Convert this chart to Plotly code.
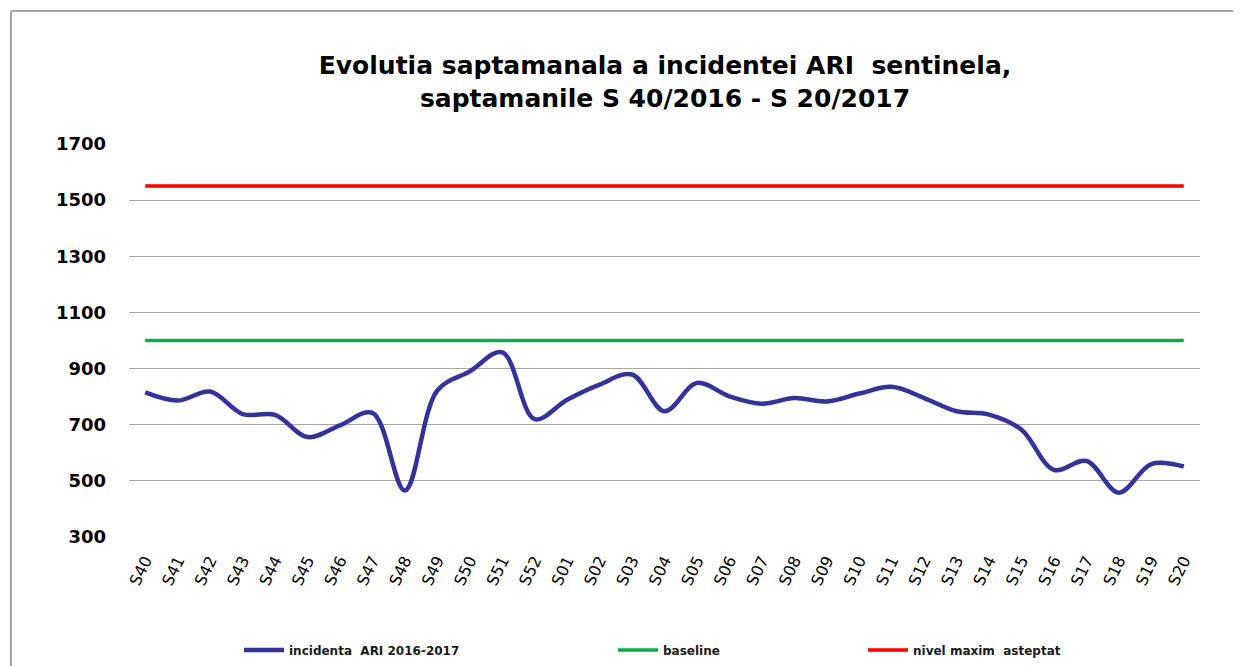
import plotly.graph_objects as go

weeks = ["S40", "S41", "S42", "S43", "S44", "S45", "S46", "S47", "S48", "S49",
         "S50", "S51", "S52", "S01", "S02", "S03", "S04", "S05", "S06", "S07",
         "S08", "S09", "S10", "S11", "S12", "S13", "S14", "S15", "S16", "S17",
         "S18", "S19", "S20"]

incidenta = [815, 786, 818, 738, 735, 656, 698, 742, 466, 822,
             890, 958, 720, 789, 843, 879, 748, 849, 801, 775,
             795, 783, 811, 835, 795, 748, 736, 682, 539, 571,
             458, 560, 551]

baseline = [1000] * len(weeks)
nivel_maxim = [1550] * len(weeks)

y_ticks = [300, 500, 700, 900, 1100, 1300, 1500, 1700]

WIDE = "DejaVu Sans, Verdana, sans-serif"

OFF = 8  # page body margin
W, H = 1241 - OFF, 666 - OFF
L, R, T, B = 129 - OFF, 41, 144 - OFF, 129
PW, PH = W - L - R, H - T - B


def px_x(px):
    return (px - OFF - L) / PW


def px_y(py):
    return (H - B - (py - OFF)) / PH


fig = go.Figure()
fig.add_trace(go.Scatter(
    x=weeks, y=incidenta, mode="lines", name="incidenta  ARI 2016-2017",
    line=dict(color="#333399", width=4.5, shape="spline", smoothing=1.0),
    legend="legend",
))
fig.add_trace(go.Scatter(
    x=weeks, y=baseline, mode="lines", name="baseline",
    line=dict(color="#00B050", width=3.5),
    legend="legend2",
))
fig.add_trace(go.Scatter(
    x=weeks, y=nivel_maxim, mode="lines", name="nivel maxim  asteptat",
    line=dict(color="#FF0000", width=3.5),
    legend="legend3",
))

legend_common = dict(
    orientation="h", yanchor="middle", xanchor="left",
    font=dict(family=WIDE, size=12, color="#1a1a1a", weight="bold"),
    bgcolor="rgba(0,0,0,0)", itemwidth=40,
    xref="paper", yref="paper",
)

fig.update_layout(
    width=W, height=H,
    margin=dict(l=L, r=R, t=T, b=B, autoexpand=False),
    paper_bgcolor="white", plot_bgcolor="white",
    title=dict(
        text="Evolutia saptamanala a incidentei ARI  sentinela,<br>saptamanile S 40/2016 - S 20/2017",
        x=(665 - OFF) / W, xanchor="center", xref="container",
        y=1 - (74 - OFF) / H, yanchor="middle", yref="container",
        font=dict(family=WIDE, size=25, color="#000000", weight="bold"),
    ),
    xaxis=dict(
        type="category", range=[-0.5, len(weeks) - 0.5],
        showgrid=False, showline=False, zeroline=False,
        tickangle=-64, ticks="",
        ticklabelstandoff=10,
        tickfont=dict(family=WIDE, size=16, color="#000000"),
        fixedrange=True,
    ),
    yaxis=dict(
        range=[300, 1700], tickvals=y_ticks,
        showgrid=True, gridcolor="#A6A6A6", gridwidth=1.3,
        showline=False, zeroline=False, ticks="",
        ticklabelstandoff=22,
        tickfont=dict(family=WIDE, size=18, color="#000000", weight="bold"),
        fixedrange=True,
    ),
    showlegend=True,
    legend=dict(x=px_x(239), y=px_y(650), **legend_common),
    legend2=dict(x=px_x(613), y=px_y(650), **legend_common),
    legend3=dict(x=px_x(863), y=px_y(650), **legend_common),
    shapes=[
        dict(type="line", xref="paper", yref="paper",
             x0=px_x(11), x1=px_x(11), y0=px_y(11), y1=px_y(670),
             line=dict(color="#A6A6A6", width=2)),
        dict(type="line", xref="paper", yref="paper",
             x0=px_x(11), x1=px_x(1245), y0=px_y(11), y1=px_y(11),
             line=dict(color="#A6A6A6", width=2)),
    ],
)

fig.write_html("out.html")
